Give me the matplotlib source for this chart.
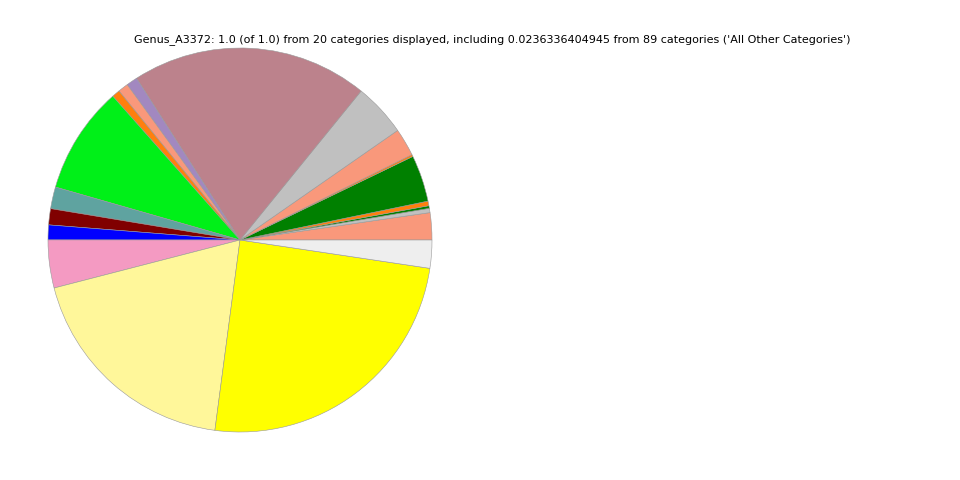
import matplotlib
matplotlib.use("Agg")
import matplotlib.pyplot as plt

categories = ["Cat_01", "Cat_02", "Cat_03", "Cat_04", "Cat_05", "Cat_06", "Cat_07",
              "Cat_08", "Cat_09", "Cat_10", "Cat_11", "Cat_12", "Cat_13", "Cat_14",
              "Cat_15", "Cat_16", "Cat_17", "Cat_18", "Cat_19", "All Other Categories"]
values = [0.0228, 0.0036, 0.0022, 0.0039, 0.0392, 0.0017, 0.0233, 0.0447, 0.1992,
          0.0094, 0.0086, 0.0067, 0.0903, 0.0183, 0.0136, 0.0125, 0.0403, 0.1889,
          0.2473, 0.0236]
colors = ["#f9987b", "#c0c0c0", "#008000", "#ff7f0e", "#008000", "#ff7f0e", "#f9987b",
          "#c0c0c0", "#bc828c", "#a288c0", "#f9987b", "#ff7f0e", "#00f018", "#5fa3a0",
          "#800000", "#0000ff", "#f49ac2", "#fff79a", "#ffff00", "#eeeeee"]
title = ("Genus_A3372: 1.0 (of 1.0) from 20 categories displayed, including "
         "0.0236336404945 from 89 categories ('All Other Categories')")

fig = plt.figure(figsize=(9.6, 4.8), dpi=100)
ax = fig.add_axes([0.05, 0.1, 0.4, 0.8])
ax.pie(values, colors=colors, startangle=0, counterclock=True,
       wedgeprops=dict(edgecolor="#999999", linewidth=0.4))
ax.set_xlim(-1, 1)
ax.set_ylim(-1, 1)
ax.set_aspect("equal")
ax.axis("off")
fig.text(0.5125, 0.917, title, ha="center", va="center", fontsize=8)
fig.savefig("out.png", dpi=100)
